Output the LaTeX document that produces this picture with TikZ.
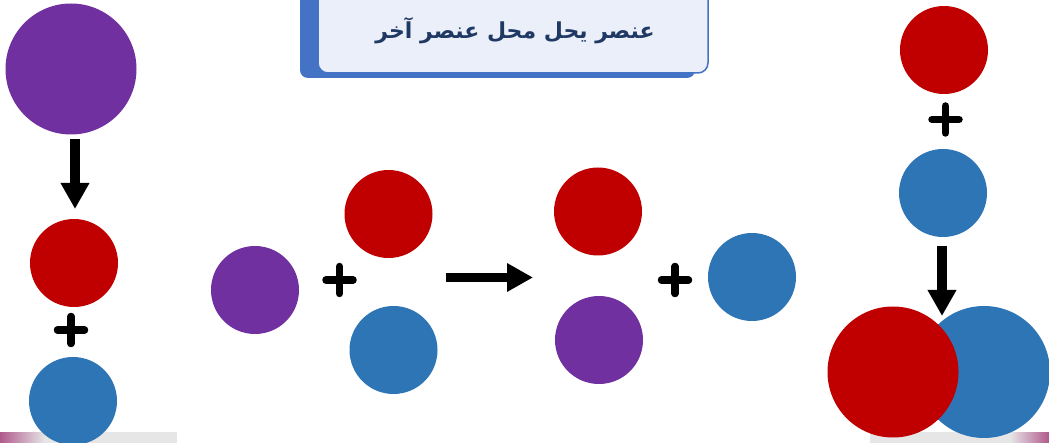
\documentclass[tikz,border=0pt]{standalone}
\usepackage{fontspec}
\newfontfamily\arabicfont[Script=Arabic]{DejaVu Sans}
\TeXXeTstate=1
\usetikzlibrary{arrows.meta}
\definecolor{cred}{HTML}{C00000}
\definecolor{cblue}{HTML}{2E75B6}
\definecolor{cpurple}{HTML}{7030A0}
\definecolor{boxblue}{HTML}{4472C4}
\definecolor{boxfill}{HTML}{EAEFF9}
\definecolor{titletext}{HTML}{1F3864}
\definecolor{bandgray}{HTML}{E6E6E6}
\definecolor{bandpink}{HTML}{B05A8C}
\tikzset{
  atom/.style={circle, inner sep=0pt, minimum size=#1},
  atom/.default=88pt,
  bigarrow/.style={line width=10pt, -{Triangle[length=26pt,width=27pt]}},
  pics/plussign/.style={code={
    \draw[line width=7.5pt, line cap=round] (-13.5,0) -- (13.5,0) (0,-13.5) -- (0,13.5);
  }}
}
\begin{document}
\begin{tikzpicture}[x=1pt, y=-1pt]
\useasboundingbox (0,0) rectangle (1049,443);
\fill[white] (0,0) rectangle (1049,443);
% bottom band
\fill[bandgray] (0,432) rectangle (177,443);
\fill[bandgray] (870,432) rectangle (1049,443);
\shade[left color=bandpink, right color=bandgray] (0,432) rectangle (45,443);
\shade[left color=bandgray, right color=bandpink] (1010,432) rectangle (1049,443);
% title box
\fill[boxblue, rounded corners=8pt] (300,-12) rectangle (695,78);
\draw[fill=boxfill, draw=boxblue, line width=1.5pt, rounded corners=10pt] (318,-12) rectangle (708,73);
\node[text=titletext, font=\arabicfont\bfseries\fontsize{22}{26}\selectfont] (title) at (515,31) {\beginR عنصر يحل محل عنصر آخر\endR};
% left column
\node[atom=131pt, fill=cpurple] (lp) at (71,69) {};
\node[atom, fill=cred] (lr) at (74,263) {};
\pic at (71,330) {plussign};
\node[atom, fill=cblue] (lb) at (73,401) {};
\coordinate (la1) at (75,139);
\coordinate (la2) at (75,209);
\draw[bigarrow] (la1) -- (la2);
% middle reaction
\node[atom, fill=cpurple] (mp) at (255,290) {};
\pic at (339.5,280) {plussign};
\node[atom, fill=cred] (mr) at (388.5,214) {};
\node[atom, fill=cblue] (mb) at (393.5,350) {};
\coordinate (ma1) at (446,277.5);
\coordinate (ma2) at (533,277.5);
\draw[bigarrow, line width=9pt] (ma1) -- (ma2);
\node[atom, fill=cred] (nr) at (598,211.5) {};
\node[atom, fill=cpurple] (np) at (599,340) {};
\pic at (675,280) {plussign};
\node[atom, fill=cblue] (nb) at (752,277) {};
% right column
\node[atom, fill=cred] (rr) at (944,50) {};
\pic at (945.5,119.5) {plussign};
\node[atom, fill=cblue] (rb) at (943,193) {};
\coordinate (ra1) at (942,246);
\coordinate (ra2) at (942,316);
\draw[bigarrow] (ra1) -- (ra2);
\node[atom=132pt, fill=cblue] (cb) at (984,372) {};
\node[atom=131pt, fill=cred] (cr) at (893,372) {};
\end{tikzpicture}
\end{document}
